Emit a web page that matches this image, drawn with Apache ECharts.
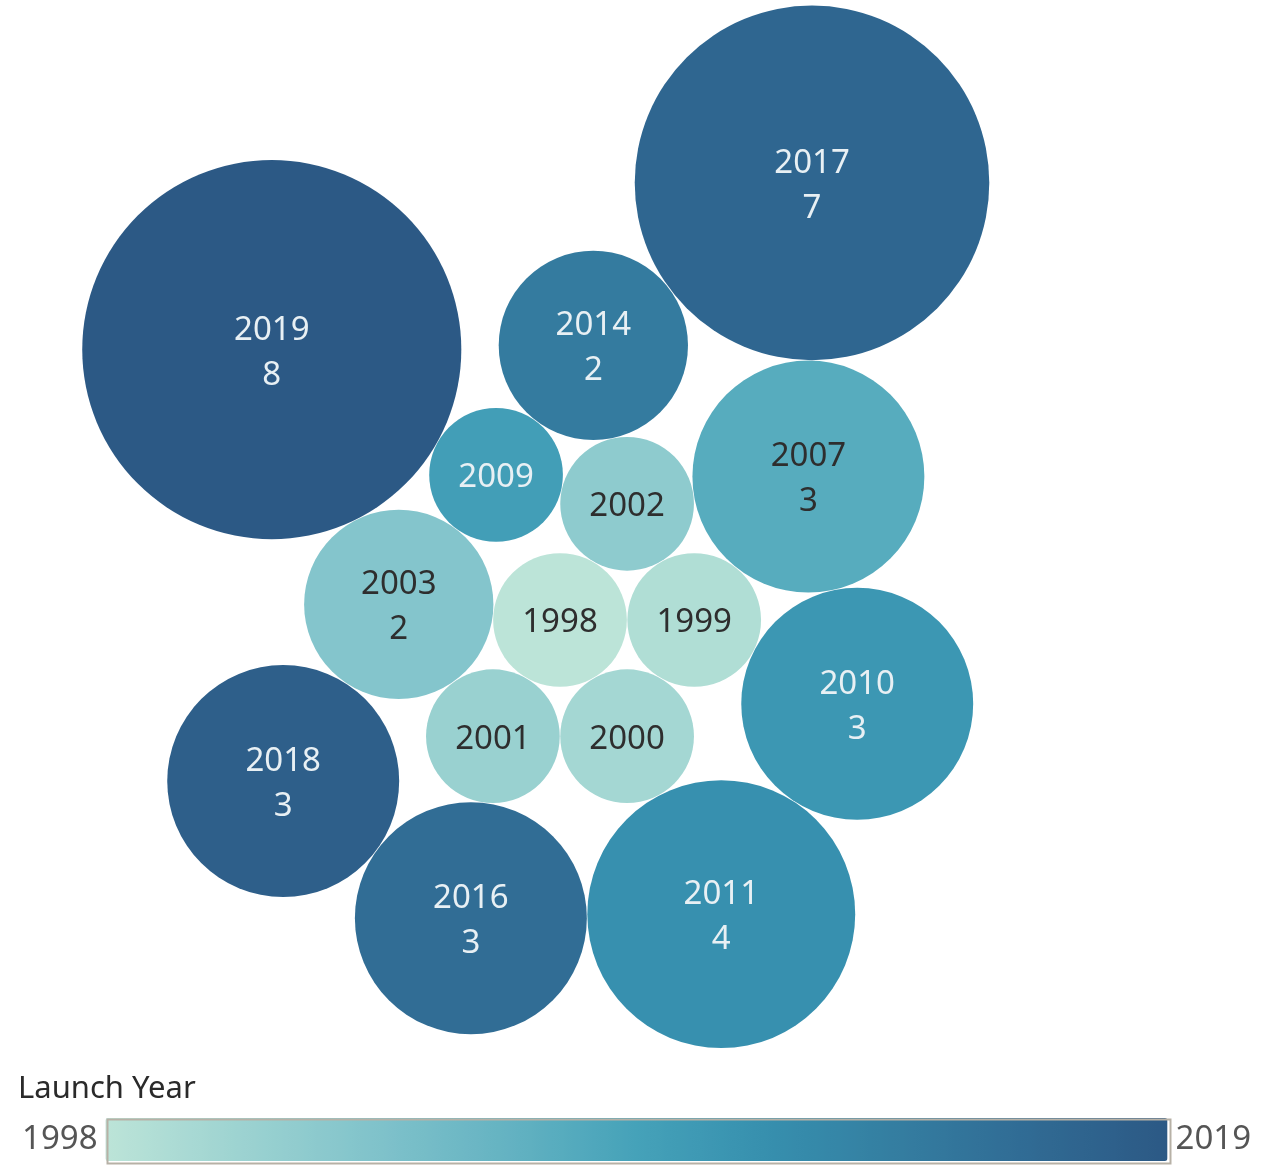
<!DOCTYPE html>
<html>
<head>
<meta charset="utf-8">
<script src="https://cdn.jsdelivr.net/npm/echarts@6/dist/echarts.min.js"></script>
<style>
  html, body { margin: 0; padding: 0; background: #fff; }
  #chart { width: 1268px; height: 1168px; }
</style>
</head>
<body>
<div id="chart"></div>
<script>
// 数据：发射年份 与 数量
var years  = [1998, 1999, 2000, 2001, 2002, 2003, 2007, 2009, 2010, 2011, 2014, 2016, 2017, 2018, 2019];
var counts = [1,    1,    1,    1,    1,    2,    3,    1,    3,    4,    2,    3,    7,    3,    8];
// packed bubble: each new bubble touches two earlier ones (placed on the right-hand side of a -> b)
var touches = [null, [1998], [1998, 1999], [1998, 2000], [1999, 1998], [1998, 2001], [1999, 2002],
    [2002, 2003], [1999, 2007], [2000, 2010], [2002, 2009], [2001, 2011], [2007, 2014], [2003, 2016], [2009, 2003]];
// Tableau Blue-Teal
var colorRamp = ['#bce4d8', '#9dd3d1', '#81c3cb', '#65b3c2', '#45a2b9', '#368fae', '#347da0', '#306a93', '#2c5985'];
var legendTitle = 'Launch Year';

var UNIT = 67.1;           // px per unit radius (count 1)
var CX = 560, CY = 620;    // 1998 bubble centre on the page

// 布局计算
var pos = {};
for (var i = 0; i < years.length; i++) {
    var r = Math.sqrt(counts[i]);
    var t = touches[i];
    if (!t) {
        pos[years[i]] = {x: 0, y: 0, r: r};
    } else if (t.length === 1) {
        var p0 = pos[t[0]];
        pos[years[i]] = {x: p0.x + p0.r + r, y: p0.y, r: r};
    } else {
        var A = pos[t[0]], B = pos[t[1]];
        var dx = B.x - A.x, dy = B.y - A.y;
        var d = Math.sqrt(dx * dx + dy * dy);
        var dA = A.r + r, dB = B.r + r;
        var along = (d * d + dA * dA - dB * dB) / (2 * d);
        var h = Math.sqrt(Math.max(0, dA * dA - along * along));
        var ux = dx / d, uy = dy / d;
        pos[years[i]] = {x: A.x + ux * along - uy * h, y: A.y + uy * along + ux * h, r: r};
    }
}

var bubbles = [];
for (var j = 0; j < years.length; j++) {
    var p = pos[years[j]];
    bubbles.push({
        value: [p.x, p.y, years[j], counts[j]],
        label: {color: years[j] >= 2008 ? '#e8f0f4' : '#2e2e2e'}
    });
}

var chart = echarts.init(document.getElementById('chart'));
chart.setOption({
    animation: false,
    title: {
        text: legendTitle,
        left: 13,
        top: 1069,
        textStyle: {fontFamily: 'Noto Sans', fontSize: 31, fontWeight: 'normal', color: '#2a2a2a'}
    },
    grid: {left: 0, right: 0, top: 0, bottom: 0},
    xAxis: {type: 'value', show: false, min: -CX / UNIT, max: (1268 - CX) / UNIT},
    yAxis: {type: 'value', show: false, inverse: true, min: -CY / UNIT, max: (1168 - CY) / UNIT},
    visualMap: {
        type: 'continuous',
        dimension: 2,
        min: years[0],
        max: years[years.length - 1],
        orient: 'horizontal',
        calculable: false,
        hoverLink: false,
        padding: 0,
        left: 22,
        top: 1118,
        itemWidth: 43,
        itemHeight: 1062,
        text: [String(years[years.length - 1]), String(years[0])],
        textGap: 8,
        textStyle: {fontFamily: 'Noto Sans', fontSize: 33, color: '#555'},
        inRange: {color: colorRamp}
    },
    graphic: [{
        type: 'rect',
        left: 105,
        top: 1117,
        shape: {width: 1063, height: 44},
        style: {fill: 'none', stroke: '#b7b1a6', lineWidth: 2},
        z: 100
    }],
    series: [{
        type: 'scatter',
        data: bubbles,
        symbolSize: function (val) { return 2 * Math.sqrt(val[3]) * UNIT - 0.5; },
        itemStyle: {opacity: 1},
        label: {
            show: true,
            position: 'inside',
            offset: [0, 3],
            fontFamily: 'Noto Sans',
            fontSize: 33,
            lineHeight: 45,
            formatter: function (p) {
                return p.value[3] > 1 ? p.value[2] + '\n' + p.value[3] : String(p.value[2]);
            }
        }
    }]
});
</script>
</body>
</html>
